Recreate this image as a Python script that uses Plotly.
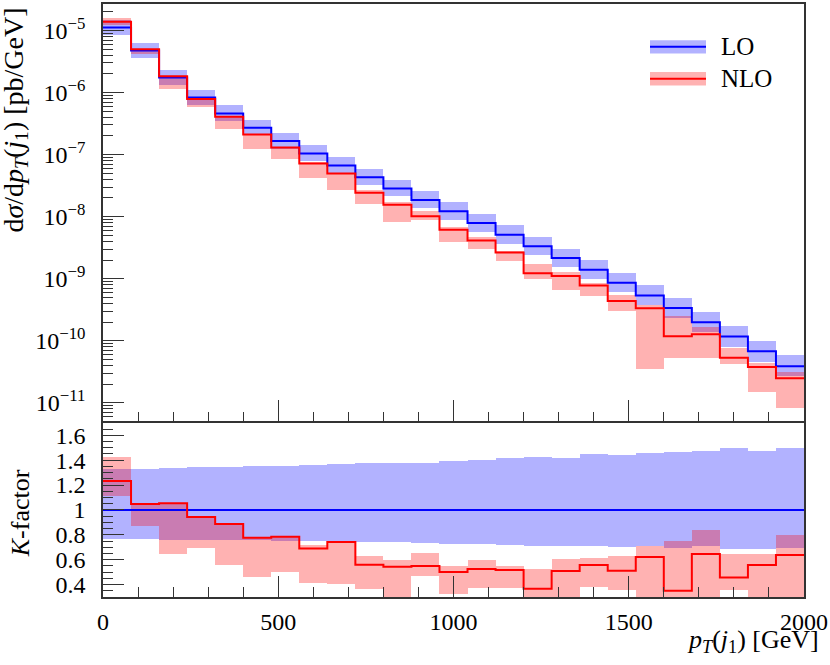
import plotly.graph_objects as go
import numpy as np

# binning in pT(j1) [GeV]
bin_edges = list(range(0, 2001, 80))

# LO differential cross section per bin [pb/GeV]
lo_xsec = [1.12e-5, 4.78e-6, 1.74e-6, 8.32e-7, 4.60e-7, 2.71e-7, 1.66e-7, 1.04e-7,
           6.67e-8, 4.33e-8, 2.85e-8, 1.85e-8, 1.22e-8, 7.87e-9, 5.12e-9, 3.33e-9,
           2.16e-9, 1.39e-9, 8.57e-10, 5.37e-10, 3.37e-10, 1.98e-10, 1.17e-10,
           6.78e-11, 3.89e-11]

# LO scale band, relative to LO central
lo_band_up = [1.331, 1.331, 1.339, 1.344, 1.347, 1.352, 1.358, 1.366, 1.371, 1.379,
              1.379, 1.382, 1.398, 1.406, 1.422, 1.427, 1.416, 1.451, 1.440, 1.459,
              1.470, 1.478, 1.502, 1.472, 1.502]
lo_band_down = [0.768, 0.768, 0.763, 0.758, 0.760, 0.760, 0.755, 0.750, 0.755, 0.742,
                0.742, 0.736, 0.731, 0.726, 0.720, 0.715, 0.710, 0.715, 0.702, 0.707,
                0.696, 0.710, 0.683, 0.683, 0.691]

# K-factor (NLO / LO) and NLO scale band, relative to LO central
k_factor = [1.232, 1.048, 1.054, 0.944, 0.888, 0.776, 0.784, 0.691, 0.742, 0.560,
            0.544, 0.549, 0.502, 0.526, 0.518, 0.366, 0.510, 0.558, 0.512, 0.622,
            0.350, 0.646, 0.456, 0.558, 0.638]
k_band_up = [1.430, 1.048, 1.054, 0.944, 0.888, 0.776, 0.784, 0.718, 0.752, 0.630,
             0.600, 0.656, 0.550, 0.595, 0.552, 0.526, 0.603, 0.614, 0.627, 0.707,
             0.750, 0.838, 0.646, 0.645, 0.803]
k_band_down = [1.115, 0.870, 0.646, 0.691, 0.558, 0.459, 0.504, 0.411, 0.403, 0.368,
               0.290, 0.470, 0.323, 0.376, 0.376, 0.300, 0.300, 0.384, 0.358, 0.065,
               0.156, 0.264, 0.355, 0.223, 0.209]

ytop_tickvals = [1e-11, 1e-10, 1e-9, 1e-8, 1e-7, 1e-6, 1e-5]
ytop_ticktext = ["10<sup>\u221211</sup>", "10<sup>\u221210</sup>", "10<sup>\u22129</sup>",
                 "10<sup>\u22128</sup>", "10<sup>\u22127</sup>", "10<sup>\u22126</sup>",
                 "10<sup>\u22125</sup>"]
ybot_tickvals = [0.4, 0.6, 0.8, 1.0, 1.2, 1.4, 1.6]
ybot_ticktext = ["0.4", "0.6", "0.8", "1", "1.2", "1.4", "1.6"]
x_tickvals = [0, 500, 1000, 1500, 2000]

FONT = "Liberation Serif, Times New Roman, serif"
BLUE = "#0000ff"
RED = "#ff0000"
BLUE_BAND = "rgba(0,0,255,0.3)"
RED_BAND = "rgba(255,0,0,0.3)"

edges = np.array(bin_edges, dtype=float)
centers = 0.5 * (edges[:-1] + edges[1:])
widths = np.diff(edges)

lo = np.array(lo_xsec)
nlo = lo * np.array(k_factor)


def band(low, high, color, xa, ya):
    low = np.asarray(low)
    high = np.asarray(high)
    return go.Bar(x=centers, y=high - low, base=low, width=widths,
                  marker=dict(color=color, line=dict(width=0)),
                  xaxis=xa, yaxis=ya, showlegend=False, hoverinfo="skip")


def step(values, color, xa, ya):
    values = list(values)
    return go.Scatter(x=edges, y=values + [values[-1]], mode="lines",
                      line=dict(color=color, width=2, shape="hv"),
                      xaxis=xa, yaxis=ya, showlegend=False)


fig = go.Figure()

# top panel: cross sections
fig.add_trace(band(lo * np.array(lo_band_down), lo * np.array(lo_band_up), BLUE_BAND, "x", "y"))
fig.add_trace(band(lo * np.array(k_band_down), lo * np.array(k_band_up), RED_BAND, "x", "y"))
fig.add_trace(step(lo, BLUE, "x", "y"))
fig.add_trace(step(nlo, RED, "x", "y"))

# bottom panel: ratio to LO
fig.add_trace(band(lo_band_down, lo_band_up, BLUE_BAND, "x2", "y2"))
fig.add_trace(band(k_band_down, k_band_up, RED_BAND, "x2", "y2"))
fig.add_trace(step(np.ones(len(lo)), BLUE, "x2", "y2"))
fig.add_trace(step(k_factor, RED, "x2", "y2"))

W, H = 830, 665
ML, MR, MT, MB = 103, 26, 2, 68


def xp(px):
    return (px - ML) / (W - ML - MR)


def yp(py):
    return (H - MB - py) / (H - MT - MB)


axis_common = dict(
    showline=True, linecolor="#333", linewidth=1.5, mirror=True,
    ticks="inside", tickcolor="#333", tickwidth=1, ticklen=21,
    showgrid=False, zeroline=False,
    tickfont=dict(family=FONT, size=24, color="black"),
)

fig.update_layout(
    width=W, height=H,
    margin=dict(l=ML, r=MR, t=MT, b=MB),
    paper_bgcolor="white", plot_bgcolor="white",
    barmode="overlay", bargap=0,
    font=dict(family=FONT, size=24, color="black"),
    xaxis=dict(axis_common, domain=[0, 1], range=[0, 2000], anchor="y",
               matches="x2", showticklabels=False, tickvals=x_tickvals,
               minor=dict(ticks="inside", ticklen=9, tickcolor="#333", dtick=100, tick0=0)),
    yaxis=dict(axis_common, domain=[0.2966, 1], type="log", range=[-11.295, -4.573],
               anchor="x", tickvals=ytop_tickvals, ticktext=ytop_ticktext,
               ticklabelstandoff=11,
               minor=dict(ticks="inside", ticklen=10, tickcolor="#333",
                          tickvals=[m * 10.0 ** e for e in range(-12, -4) for m in range(2, 10)])),
    xaxis2=dict(axis_common, domain=[0, 1], range=[0, 2000], anchor="y2",
                tickvals=x_tickvals, ticklabelstandoff=2,
                minor=dict(ticks="inside", ticklen=10, tickcolor="#333", dtick=100, tick0=0)),
    yaxis2=dict(axis_common, domain=[0, 0.2936], range=[0.3, 1.7], anchor="x2",
                tickvals=ybot_tickvals, ticktext=ybot_ticktext, ticklabelstandoff=11,
                minor=dict(ticks="inside", ticklen=10, tickcolor="#333", dtick=0.05, tick0=0)),
)

# axis titles
fig.add_annotation(text="d<i>σ</i>/d<i>p</i><sub><i>T</i></sub>(<i>j</i><sub>1</sub>) [pb/GeV]",
                   x=xp(15), y=yp(4), xref="paper", yref="paper", textangle=-90,
                   xanchor="center", yanchor="top", showarrow=False,
                   font=dict(family=FONT, size=28))
fig.add_annotation(text="<i>K</i>-factor",
                   x=xp(20), y=yp(513), xref="paper", yref="paper", textangle=-90,
                   xanchor="center", yanchor="middle", showarrow=False,
                   font=dict(family=FONT, size=26))
fig.add_annotation(text="<i>p</i><sub><i>T</i></sub>(<i>j</i><sub>1</sub>) [GeV]",
                   x=xp(821), y=yp(641), xref="paper", yref="paper",
                   xanchor="right", yanchor="middle", showarrow=False,
                   font=dict(family=FONT, size=26))

# legend drawn by hand: band patch with the central line through it
legend_items = [("LO", BLUE, BLUE_BAND, 45), ("NLO", RED, RED_BAND, 77)]
for name, line_color, band_color, yc in legend_items:
    fig.add_shape(type="rect", xref="paper", yref="paper",
                  x0=xp(650), x1=xp(706), y0=yp(yc + 6.7), y1=yp(yc - 6.7),
                  fillcolor=band_color, line=dict(width=0))
    fig.add_shape(type="line", xref="paper", yref="paper",
                  x0=xp(650), x1=xp(706), y0=yp(yc), y1=yp(yc),
                  line=dict(color=line_color, width=2))
    fig.add_annotation(text=name, x=xp(719), y=yp(yc), xref="paper", yref="paper",
                       xanchor="left", yanchor="middle", showarrow=False,
                       font=dict(family=FONT, size=25))

# the page's default body margin would shift the figure by 8 px
fig.write_html("out.html", config={"displayModeBar": False},
               post_script="document.body.style.margin = '0px';")
